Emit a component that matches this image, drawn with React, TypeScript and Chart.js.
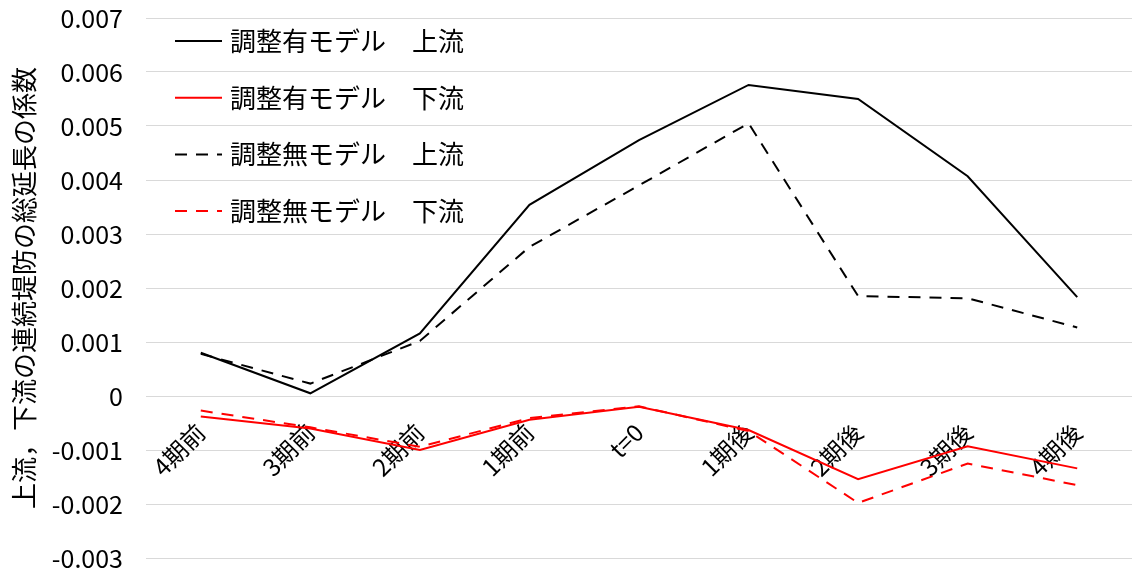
import React, { useEffect, useRef } from "react";
import { Chart, registerables } from "chart.js";

Chart.register(...registerables);

// Periods relative to the event (t=0)
const periods = ["4期前", "3期前", "2期前", "1期前", "t=0", "1期後", "2期後", "3期後", "4期後"];

// Coefficients of total continuous-levee length
const adjustedUpstream = [0.0008, 0.00005, 0.00116, 0.00354, 0.00474, 0.00576, 0.0055, 0.00407, 0.00183];
const adjustedDownstream = [-0.00038, -0.0006, -0.001, -0.00044, -0.0002, -0.00063, -0.00154, -0.00093, -0.00134];
const unadjustedUpstream = [0.00078, 0.00023, 0.00102, 0.00276, 0.0039, 0.00505, 0.00185, 0.00181, 0.00127];
const unadjustedDownstream = [-0.00027, -0.00058, -0.00094, -0.00041, -0.00019, -0.00065, -0.00198, -0.00125, -0.00165];

const seriesLabels = [
  "調整有モデル　上流",
  "調整有モデル　下流",
  "調整無モデル　上流",
  "調整無モデル　下流",
];

const yAxisTitle = "上流，下流の連続堤防の総延長の係数";
const yMin = -0.003;
const yMax = 0.007;
const yStep = 0.001;

const FONT = "'Noto Sans CJK JP', 'Noto Sans', sans-serif";
const RED = "#FF0000";
const BLACK = "#000000";
const DASH = [12, 9];

// Legend drawn inside the plot area, top-left, one row per dataset
const insideLegend = {
  id: "insideLegend",
  afterDraw(chart: any) {
    const { ctx } = chart;
    const x0 = 175;
    const x1 = 222;
    const textX = 230;
    const firstY = 41;
    const rowGap = 56.7;
    ctx.save();
    chart.data.datasets.forEach((ds: any, i: number) => {
      const y = firstY + i * rowGap;
      ctx.beginPath();
      ctx.setLineDash(ds.borderDash || []);
      ctx.lineDashOffset = 0;
      ctx.strokeStyle = ds.borderColor;
      ctx.lineWidth = ds.borderWidth;
      ctx.moveTo(x0, y);
      ctx.lineTo(x1, y);
      ctx.stroke();
      ctx.setLineDash([]);
      ctx.fillStyle = "#000";
      ctx.font = `26px ${FONT}`;
      ctx.textBaseline = "middle";
      ctx.textAlign = "left";
      ctx.fillText(ds.label, textX, y);
    });
    ctx.restore();
  },
};

export default function App() {
  const canvasRef = useRef<HTMLCanvasElement | null>(null);

  useEffect(() => {
    const canvas = canvasRef.current;
    if (!canvas) return;
    Chart.defaults.font.family = FONT;
    Chart.defaults.color = "#000";

    const chart = new Chart(canvas, {
      type: "line",
      data: {
        labels: periods,
        datasets: [
          {
            label: seriesLabels[0],
            data: adjustedUpstream,
            borderColor: BLACK,
            borderWidth: 2,
            pointRadius: 0,
            tension: 0,
            order: 4,
          },
          {
            label: seriesLabels[1],
            data: adjustedDownstream,
            borderColor: RED,
            borderWidth: 2,
            pointRadius: 0,
            tension: 0,
            order: 3,
          },
          {
            label: seriesLabels[2],
            data: unadjustedUpstream,
            borderColor: BLACK,
            borderWidth: 2,
            borderDash: DASH,
            pointRadius: 0,
            tension: 0,
            order: 2,
          },
          {
            label: seriesLabels[3],
            data: unadjustedDownstream,
            borderColor: RED,
            borderWidth: 2,
            borderDash: DASH,
            pointRadius: 0,
            tension: 0,
            order: 1,
          },
        ],
      },
      options: {
        animation: false,
        responsive: false,
        layout: { padding: { top: 18, bottom: 14, left: 0, right: 0 } },
        plugins: {
          legend: { display: false },
          tooltip: { enabled: false },
        },
        scales: {
          x: {
            position: { y: 0 },
            offset: true,
            grid: { display: false, drawTicks: false },
            border: { display: false },
            ticks: {
              autoSkip: false,
              minRotation: 45,
              maxRotation: 45,
              padding: 22,
              color: "#000",
              font: { size: 24, family: FONT },
            },
          },
          y: {
            position: "left",
            min: yMin,
            max: yMax,
            afterFit(scale: any) {
              scale.width = 146;
            },
            grid: {
              color: "#D9D9D9",
              lineWidth: 1,
              drawTicks: true,
              tickLength: 23,
              tickColor: "rgba(0,0,0,0)",
            },
            border: { display: false },
            ticks: {
              stepSize: yStep,
              padding: 0,
              color: "#000",
              font: { size: 25, family: FONT, lineHeight: 1 },
              callback: (v: any) => {
                const n = Number(v);
                if (Math.abs(n) < 1e-9) return "0";
                return n.toFixed(3);
              },
            },
            title: {
              display: true,
              text: yAxisTitle,
              color: "#000",
              font: { size: 26, family: FONT },
              padding: { top: 9, bottom: 0 },
            },
          },
        },
      },
      plugins: [insideLegend],
    });

    return () => chart.destroy();
  }, []);

  return (
    <div style={{ position: "fixed", left: 0, top: 0, width: 1132, height: 572, background: "#fff" }}>
      <canvas ref={canvasRef} width={1132} height={572} style={{ display: "block" }} />
    </div>
  );
}
